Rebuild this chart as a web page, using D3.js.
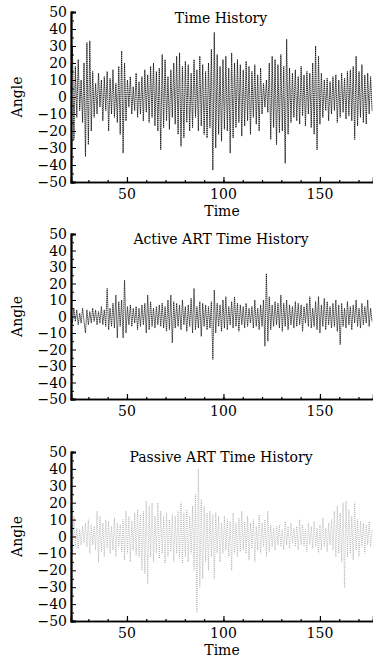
<!DOCTYPE html>
<html><head><meta charset="utf-8">
<script src="https://cdn.jsdelivr.net/npm/d3@7/dist/d3.min.js"></script>
<style>
html,body{margin:0;padding:0;background:#fff;}
svg{display:block;font-family:"DejaVu Serif",serif;}
</style></head>
<body>
<svg id="chart" width="373" height="658"></svg>
<script>
// sampling of the time series
const timeStart = 21;
const timeStep = 0.75;

const xTicks = [50, 100, 150];
const yTicks = [50, 40, 30, 20, 10, 0, -10, -20, -30, -40, -50];
const titles = ["Time History", "Active ART Time History", "Passive ART Time History"];

const historyValues = [
  8, 30, -25, 18, -12, 22, -8, 10, -15, 20, -35, 32,
  -28, 33, -20, 15, -12, 8, -10, 14, -6, 10, -14, 12,
  -8, 15, -20, 11, -10, 16, -12, 8, -15, 18, -22, 27,
  -33, 20, -14, 10, -6, 12, -10, 6, -8, 14, -12, 9,
  -10, 12, -14, 16, -9, 13, -15, 18, -12, 20, -17, 15,
  -20, 17, -31, 25, -18, 22, -14, 12, -19, 16, -12, 20,
  -16, 24, -22, 26, -29, 18, -24, 21, -15, 19, -20, 14,
  -18, 22, -12, 16, -20, 24, -17, 19, -22, 15, -24, 20,
  -18, 28, -43, 38, -30, 25, -22, 18, -26, 22, -19, 24,
  -20, 17, -33, 26, -24, 20, -18, 22, -15, 19, -23, 16,
  -17, 21, -14, 18, -22, 15, -12, 19, -16, 13, -20, 17,
  -10, 8, -6, 10, -9, 20, -25, 24, -18, 22, -28, 19,
  -21, 25, -20, 18, -39, 34, -22, 17, -15, 14, -12, 16,
  -14, 12, -16, 18, -11, 13, -17, 15, -10, 14, -18, 20,
  -22, 30, -31, 24, -16, 14, -12, 10, -8, 11, -14, 9,
  -10, 12, -8, 13, -15, 10, -12, 14, -9, 11, -13, 15,
  -11, 16, -14, 18, -25, 24, -17, 15, -12, 19, -15, 13,
  -16, 14, -10, 12, -8
];

const activeValues = [
  3, -4, 5, -3, 4, -5, 2, -4, 5, -3, -10, 4,
  -5, 3, -4, 5, -3, 4, -5, 3, -4, 6, -5, 4,
  -6, 17, -8, 5, -6, 8, -7, 13, -13, 9, -6, 10,
  -13, 22, -10, 6, -5, 7, -6, 5, -4, 6, -8, 5,
  -6, 7, -5, 8, -10, 13, -8, 9, -6, 5, -7, 6,
  -5, 7, -6, 8, -7, 6, -9, 10, -8, 13, -16, 9,
  -7, 8, -6, 7, -8, 10, -5, 6, -9, 7, -6, 11,
  -10, 17, -8, 6, -7, 9, -12, 8, -6, 7, -8, 6,
  -7, 9, -26, 16, -10, 8, -6, 7, -9, 10, -7, 12,
  -8, 6, -5, 9, -7, 12, -6, 8, -9, 7, -5, 6,
  -7, 8, -6, 5, -4, 6, -7, 10, -6, 5, -8, 7,
  -6, 10, -18, 26, -15, 12, -8, 7, -6, 9, -5, 8,
  -7, 13, -9, 8, -6, 10, -8, 7, -5, 6, -7, 9,
  -6, 8, -5, 7, -9, 6, -4, 8, -6, 12, -7, 5,
  -6, 9, -8, 12, -10, 7, -6, 11, -8, 9, -5, 6,
  -7, 8, -6, 10, -9, 7, -17, 8, -6, 5, -7, 9,
  -5, 6, -8, 7, -4, 10, -6, 5, -7, 8, -5, 6,
  -4, 10, -6, 5, -3
];

const passiveValues = [
  20, -10, 12, -6, 5, -7, 4, -5, 6, -4, 8, -6,
  10, -10, 7, -5, 6, -8, 15, -15, 12, -9, 8, -12,
  10, -7, 9, -10, 6, -8, 11, -12, 8, -6, 7, -9,
  10, -14, 15, -10, 12, -15, 9, -8, 14, -11, 16, -12,
  13, -20, 15, -22, 21, -28, 18, -12, 20, -15, 12, -10,
  20, -13, 15, -10, 12, -16, 14, -12, 10, -9, 13, -15,
  12, -10, 15, -13, 20, -16, 14, -12, 16, -15, 12, -10,
  18, -20, 25, -45, 40, -30, 22, -25, 18, -15, 14, -20,
  15, -12, 13, -25, 14, -10, 12, -15, 8, -10, 12, -8,
  10, -12, 9, -20, 14, -10, 8, -12, 11, -9, 15, -8,
  9, -10, 12, -14, 8, -7, 10, -15, 6, -8, 13, -10,
  8, -6, 10, -12, 15, -9, 7, -6, 5, -8, 6, -5,
  7, -6, 4, -8, 9, -5, 6, -7, 8, -4, 5, -6,
  6, -8, 10, -5, 7, -6, 4, -9, 8, -5, 6, -7,
  9, -6, 5, -10, 7, -8, 11, -6, 5, -9, 8, -5,
  10, -8, 15, -12, 18, -10, 14, -15, 20, -30, 21, -12,
  16, -10, 12, -14, 20, -8, 10, -12, 9, -6, 8, -10,
  7, -5, 9, -6, 4
];

const panels = [
  {values: historyValues, top: 12, bottom: 182, titleY: 23, tickY: 199, timeLabel: true, color: "#111", dash: "1.5,0.6", width: 0.9},
  {values: activeValues, top: 234, bottom: 399, titleY: 244, tickY: 416, timeLabel: false, color: "#111", dash: "1.5,0.5", width: 0.8},
  {values: passiveValues, top: 452, bottom: 621, titleY: 462, tickY: 638, timeLabel: true, color: "#9a9a9a", dash: "0.8,1.2", width: 0.8}
];

const svg = d3.select("#chart");
const left = 71, right = 373;
const x = d3.scaleLinear().domain([21, 177.5]).range([left, right]);

panels.forEach((p, k) => {
  const y = d3.scaleLinear().domain([-50, 50]).range([p.bottom, p.top]);
  const g = svg.append("g");
  const clipId = "clip" + k;
  svg.append("clipPath").attr("id", clipId).append("rect")
    .attr("x", left).attr("y", p.top - 2).attr("width", right - left).attr("height", p.bottom - p.top + 2);

  const pts = p.values.map((v, i) => [timeStart + i * timeStep, v]);
  const line = d3.line().x(d => x(d[0])).y(d => y(d[1]));
  g.append("path").datum(pts).attr("clip-path", `url(#${clipId})`)
    .attr("d", line).attr("fill", "none")
    .attr("stroke", p.color).attr("stroke-width", p.width)
    .attr("stroke-dasharray", p.dash);

  // y axis
  const yAxis = d3.axisRight(y).tickValues(d3.range(-50, 51, 10)).tickSize(5).tickFormat("");
  const ya = g.append("g").attr("transform", `translate(${left},0)`).call(yAxis);
  const yMinor = d3.axisRight(y).tickValues(d3.range(-45, 50, 10)).tickSize(3).tickFormat("");
  const ym = g.append("g").attr("transform", `translate(${left},0)`).call(yMinor);
  [ya, ym].forEach(a => { a.select(".domain").attr("stroke-width", 1.8); a.selectAll(".tick line").attr("stroke-width", 1); });
  g.selectAll(".ylab").data(yTicks).enter().append("text")
    .attr("x", 67).attr("y", d => y(d)).attr("dy", "0.36em")
    .attr("text-anchor", "end").attr("font-size", 14).attr("fill", "#000")
    .text(d => d < 0 ? "\u2212" + Math.abs(d) : d);

  // x axis
  const xAxis = d3.axisTop(x).tickValues(d3.range(30, 178, 10)).tickSize(2).tickFormat("");
  const xa = g.append("g").attr("transform", `translate(0,${p.bottom})`).call(xAxis);
  const xMajor = d3.axisTop(x).tickValues(xTicks).tickSize(5).tickFormat("");
  const xm = g.append("g").attr("transform", `translate(0,${p.bottom})`).call(xMajor);
  [xa, xm].forEach(a => { a.select(".domain").attr("stroke-width", 1.5); a.selectAll(".tick line").attr("stroke-width", 1.2); });
  g.selectAll(".xlab").data(xTicks).enter().append("text")
    .attr("x", d => x(d)).attr("y", p.tickY)
    .attr("text-anchor", "middle").attr("font-size", 14).attr("fill", "#000")
    .text(d => d);

  if (p.timeLabel) {
    g.append("text").attr("x", 222).attr("y", p.tickY + 17)
      .attr("text-anchor", "middle").attr("font-size", 14).text("Time");
  }
  g.append("text").attr("transform", `translate(22,${(p.top + p.bottom) / 2}) rotate(-90)`)
    .attr("text-anchor", "middle").attr("font-size", 14).text("Angle");
  g.append("text").attr("x", 221).attr("y", p.titleY)
    .attr("text-anchor", "middle").attr("font-size", 14).text(titles[k]);
});
</script>
</body></html>
